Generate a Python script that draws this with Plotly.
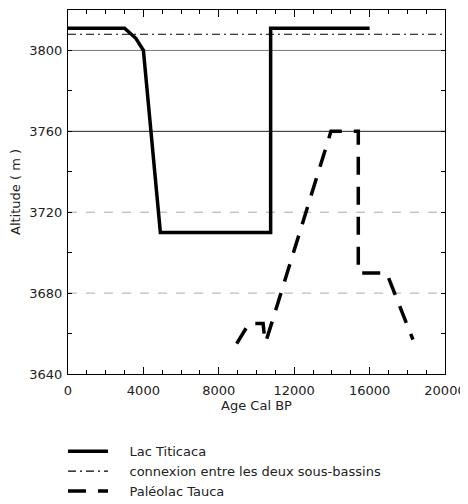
import plotly.graph_objects as go

# Lac Titicaca level (age cal BP, altitude m)
titicaca_age = [0, 3000, 3600, 4000, 4900, 10750, 10750, 16000]
titicaca_alt = [3811, 3811, 3806, 3800, 3710, 3710, 3811, 3811]

# connexion entre les deux sous-bassins
connexion_age = [0, 20000]
connexion_alt = [3808, 3808]

# Paléolac Tauca
tauca_age = [8950, 9600, 10350, 10450, 10500, 13950, 15400, 15400, 16900, 18300]
tauca_alt = [3655, 3665, 3665, 3656, 3656, 3760, 3760, 3690, 3690, 3657]

x_ticks = [0, 4000, 8000, 12000, 16000, 20000]
y_ticks = [3640, 3680, 3720, 3760, 3800]

grid_levels = [3800, 3760, 3720, 3680]
grid_colors = ["#777777", "#222222", "#aaaaaa", "#aaaaaa"]
grid_dash = ["solid", "solid", "dash", "dash"]

font = "DejaVu Sans, Arial, sans-serif"
pad = "\u00a0" * 4

fig = go.Figure()
fig.add_trace(go.Scatter(x=titicaca_age, y=titicaca_alt, mode="lines",
                         name=pad + "Lac Titicaca",
                         line=dict(color="black", width=3.5)))
fig.add_trace(go.Scatter(x=connexion_age, y=connexion_alt, mode="lines",
                         name=pad + "connexion entre les deux sous-bassins",
                         line=dict(color="black", width=1.2, dash="8px,4px,2px,4px")))
fig.add_trace(go.Scatter(x=tauca_age, y=tauca_alt, mode="lines",
                         name=pad + "Paléolac Tauca",
                         line=dict(color="black", width=3.5, dash="18px,12px")))

for lvl, c, d in zip(grid_levels, grid_colors, grid_dash):
    fig.add_hline(y=lvl, line=dict(color=c, width=1, dash=d), layer="below")

fig.update_layout(
    width=468, height=504,
    margin=dict(l=60, r=31, t=2, b=138),
    paper_bgcolor="white", plot_bgcolor="white",
    font=dict(family=font, size=13, color="#222222"),
    showlegend=True,
    legend=dict(x=-0.0133, y=-0.171, xanchor="left", yanchor="top",
                font=dict(size=13), tracegroupgap=0, itemwidth=40,
                bgcolor="rgba(0,0,0,0)"),
)
fig.update_xaxes(range=[0, 20000], tickvals=x_ticks, ticktext=[str(v) for v in x_ticks],
                 ticks="inside", ticklen=7, tickcolor="black",
                 minor=dict(dtick=1000, ticks="inside", ticklen=4, tickcolor="black"),
                 showline=True, linecolor="black", linewidth=1, mirror="ticks",
                 showgrid=False, zeroline=False, automargin=False,
                 ticklabelstandoff=4,
                 title=dict(text="Age Cal BP", standoff=0, font=dict(size=13)))
fig.update_yaxes(range=[3640, 3820], tickvals=y_ticks, ticktext=[str(v) for v in y_ticks],
                 ticks="inside", ticklen=4, tickcolor="black",
                 minor=dict(dtick=20, ticks="inside", ticklen=4, tickcolor="black"),
                 showline=True, linecolor="black", linewidth=1, mirror="ticks",
                 showgrid=False, zeroline=False, automargin=False,
                 ticklabelstandoff=2,
                 title=dict(text="Altitude ( m )", standoff=5, font=dict(size=13)))

fig.write_html("out.html")
